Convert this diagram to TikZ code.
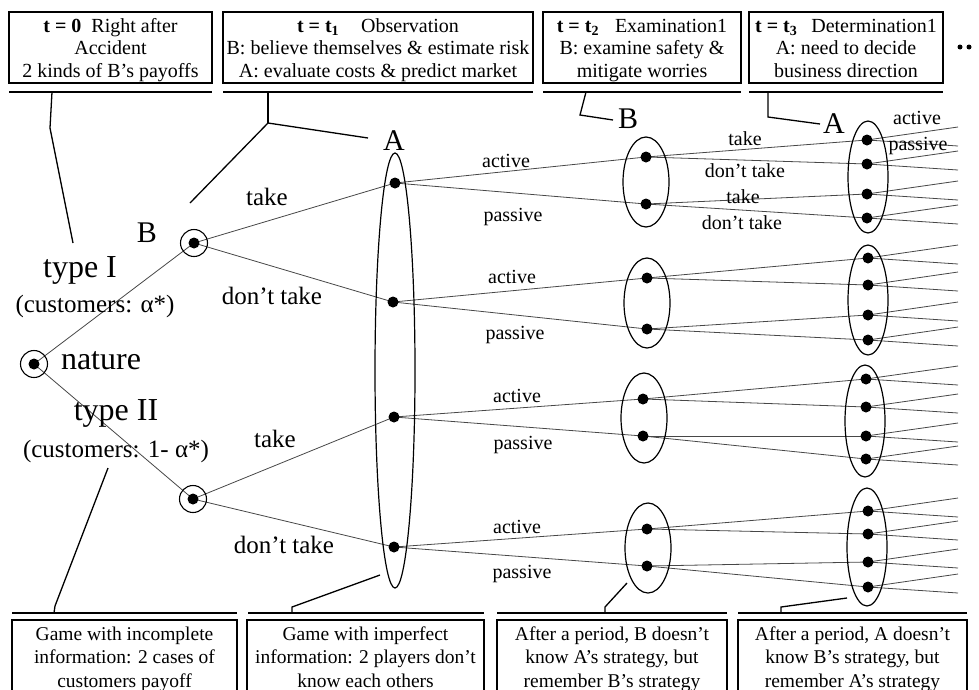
\documentclass[tikz,border=0pt]{standalone}
\usepackage{fontspec}
\setmainfont{Liberation Serif}
\usetikzlibrary{shapes.geometric,backgrounds}

\begin{document}
\begin{tikzpicture}[x=1pt,y=-1pt,
  branch/.style={draw=black!72, line width=0.8pt},
  infoset/.style={ellipse, draw, line width=1.2pt, inner sep=0},
  dot/.style={circle, fill=black, inner sep=0, minimum size=11pt},
  chance/.style={circle, draw, line width=1.1pt, inner sep=0, minimum size=27pt},
  leader/.style={draw, line width=1.3pt},
  rulebar/.style={draw, line width=1.8pt},
  panel/.style={rectangle, draw, line width=1.3pt, inner sep=0},
  ptext/.style={anchor=base, inner sep=0, font=\fontsize{20}{24}\selectfont},
  btext/.style={anchor=base, inner sep=0, font=\fontsize{19.5}{24}\selectfont},
  lbl/.style={anchor=base, inner sep=0, font=\fontsize{20}{24}\selectfont},
  movelbl/.style={anchor=base, inner sep=0, font=\fontsize{25}{30}\selectfont},
  player/.style={anchor=base, inner sep=0, font=\fontsize{30}{36}\selectfont},
  typelbl/.style={anchor=base, inner sep=0, font=\fontsize{32}{38}\selectfont},
  more/.style={circle, fill=black, inner sep=0, minimum size=5pt}
]
\useasboundingbox (0,0) rectangle (979,689);
\clip (0,0) rectangle (979,689);

% ---------- time-period panels (top) ----------
\node[panel, minimum width=203pt, minimum height=71pt] (p0) at (110.5,47.5) {};
\node[panel, minimum width=310pt, minimum height=71pt] (p1) at (378,47.5) {};
\node[panel, minimum width=198pt, minimum height=71pt] (p2) at (642,47.5) {};
\node[panel, minimum width=194pt, minimum height=71pt] (p3) at (846,47.5) {};

\node[ptext] (p0l1) at (110.5,32) {\textbf{t = 0}\hspace{0.5em}Right after};
\node[ptext] (p0l2) at (110.5,54.5) {Accident};
\node[ptext] (p0l3) at (110.5,77) {2 kinds of B’s payoffs};

\node[ptext] (p1l1) at (378,32) {\textbf{t = t\textsubscript{1}}\hspace{1.1em}Observation};
\node[ptext] (p1l2) at (378,54.5) {B: believe themselves \& estimate risk};
\node[ptext] (p1l3) at (378,77) {A: evaluate costs \& predict market};

\node[ptext] (p2l1) at (642,32) {\textbf{t = t\textsubscript{2}}\hspace{0.8em}Examination1};
\node[ptext] (p2l2) at (642,54.5) {B: examine safety \&};
\node[ptext] (p2l3) at (642,77) {mitigate worries};

\node[ptext] (p3l1) at (846,32) {\textbf{t = t\textsubscript{3}}\hspace{0.7em}Determination1};
\node[ptext] (p3l2) at (846,54.5) {A: need to decide};
\node[ptext] (p3l3) at (846,77) {business direction};

\node[more] (more1) at (960,47) {};
\node[more] (more2) at (969,47) {};

\draw[rulebar] (9,92) -- (212,92);
\draw[rulebar] (223,92) -- (533,92);
\draw[rulebar] (543,92) -- (741,92);
\draw[rulebar] (749,92) -- (943,92);

% ---------- remark panels (bottom) ----------
\node[panel, minimum width=225pt, minimum height=90pt] (q0) at (124.5,665) {};
\node[panel, minimum width=237pt, minimum height=90pt] (q1) at (365.5,665) {};
\node[panel, minimum width=230pt, minimum height=90pt] (q2) at (612,665) {};
\node[panel, minimum width=229pt, minimum height=90pt] (q3) at (852.5,665) {};

\node[btext] (q0l1) at (124.5,640) {Game with incomplete};
\node[btext] (q0l2) at (124.5,663.5) {information: 2 cases of};
\node[btext] (q0l3) at (124.5,687) {customers payoff};

\node[btext] (q1l1) at (365.5,640) {Game with imperfect};
\node[btext] (q1l2) at (365.5,663.5) {information: 2 players don’t};
\node[btext] (q1l3) at (365.5,687) {know each others};

\node[btext] (q2l1) at (612,640) {After a period, B doesn’t};
\node[btext] (q2l2) at (612,663.5) {know A’s strategy, but};
\node[btext] (q2l3) at (612,687) {remember B’s strategy};

\node[btext] (q3l1) at (852.5,640) {After a period, A doesn’t};
\node[btext] (q3l2) at (852.5,663.5) {know B’s strategy, but};
\node[btext] (q3l3) at (852.5,687) {remember A’s strategy};

\draw[rulebar] (12,613) -- (237,613);
\draw[rulebar] (248,613) -- (484,613);
\draw[rulebar] (497,613) -- (727,613);
\draw[rulebar] (738,613) -- (967,613);

% ---------- leaders from the panels ----------
\coordinate (r0) at (52,92);  \coordinate (k0) at (50,128);  \coordinate (tip0) at (73,243);
\coordinate (r1) at (268,92); \coordinate (k1) at (268,123); \coordinate (tip1a) at (190,203); \coordinate (tip1b) at (368,138);
\coordinate (r2) at (586,92); \coordinate (k2) at (580,115); \coordinate (tip2) at (613,120);
\coordinate (r3) at (768,92); \coordinate (k3) at (768,117); \coordinate (tip3) at (820,124);
\draw[leader] (r0) -- (k0) -- (tip0);
\draw[leader] (tip1a) -- (k1) -- (tip1b);
\draw[leader] (r1) -- (k1);
\draw[leader] (r2) -- (k2) -- (tip2);
\draw[leader] (r3) -- (k3) -- (tip3);

\coordinate (s0) at (54,613);  \coordinate (m0) at (55,606);  \coordinate (u0) at (108,468);
\coordinate (s1) at (292,613); \coordinate (m1) at (292,607); \coordinate (u1) at (380,575);
\coordinate (s2) at (605,613); \coordinate (m2) at (605,607); \coordinate (u2) at (627,583);
\coordinate (s3) at (781,613); \coordinate (m3) at (781,607); \coordinate (u3) at (847,598);
\draw[leader] (s0) -- (m0) -- (u0);
\draw[leader] (s1) -- (m1) -- (u1);
\draw[leader] (s2) -- (m2) -- (u2);
\draw[leader] (s3) -- (m3) -- (u3);

% ---------- information sets ----------
\node[infoset, minimum width=40pt, minimum height=435pt] (setA) at (395,370.5) {};
\node[infoset, minimum width=46pt, minimum height=90pt] (setB1) at (646,182) {};
\node[infoset, minimum width=46pt, minimum height=90pt] (setB2) at (647,303) {};
\node[infoset, minimum width=46pt, minimum height=90pt] (setB3) at (644,418) {};
\node[infoset, minimum width=46pt, minimum height=90pt] (setB4) at (648,548) {};
\node[infoset, minimum width=40pt, minimum height=112pt] (setC1) at (868,177) {};
\node[infoset, minimum width=40pt, minimum height=110pt] (setC2) at (868,300) {};
\node[infoset, minimum width=40pt, minimum height=112pt] (setC3) at (865,421) {};
\node[infoset, minimum width=40pt, minimum height=118pt] (setC4) at (867,547) {};

% ---------- decision nodes ----------
\node[chance] (n) at (34,364) {};  \node[dot] (ndot) at (n.center) {};
\node[chance] (b1) at (194,243) {}; \node[dot] (b1dot) at (b1.center) {};
\node[chance] (b2) at (193,499) {}; \node[dot] (b2dot) at (b2.center) {};

\node[dot] (a1) at (395,183) {};
\node[dot] (a2) at (393,302) {};
\node[dot] (a3) at (394,417) {};
\node[dot] (a4) at (394,547) {};

\node[dot] (c1) at (646,157) {};
\node[dot] (c2) at (646,204) {};
\node[dot] (c3) at (647,278) {};
\node[dot] (c4) at (647,329) {};
\node[dot] (c5) at (643,399) {};
\node[dot] (c6) at (643,436) {};
\node[dot] (c7) at (647,529) {};
\node[dot] (c8) at (647,566) {};

\foreach \i/\x/\y in {1/867/140,2/867/164,3/867/194,4/867/218,
                      5/868/258,6/868/285,7/868/315,8/868/340,
                      9/866/379,10/866/407,11/866/436,12/866/459,
                      13/868/511,14/868/534,15/868/562,16/868/587}{
  \node[dot] (d\i) at (\x,\y) {};
  \coordinate (e\i u) at (958,\y-13);
  \coordinate (e\i d) at (958,\y+6);
}

% ---------- branches ----------
\begin{scope}[on background layer]
  \draw[branch] (n.center) -- (b1.center);
  \draw[branch] (n.center) -- (b2.center);
  \draw[branch] (b1.center) -- (a1.center);
  \draw[branch] (b1.center) -- (a2.center);
  \draw[branch] (b2.center) -- (a3.center);
  \draw[branch] (b2.center) -- (a4.center);
  \foreach \a/\p/\q in {a1/c1/c2, a2/c3/c4, a3/c5/c6, a4/c7/c8}{
    \draw[branch] (\a.center) -- (\p.center);
    \draw[branch] (\a.center) -- (\q.center);
  }
  \foreach \c/\p/\q in {c1/1/2, c2/3/4, c3/5/6, c4/7/8,
                        c5/9/10, c6/11/12, c7/13/14, c8/15/16}{
    \draw[branch] (\c.center) -- (d\p.center);
    \draw[branch] (\c.center) -- (d\q.center);
  }
  \foreach \i in {1,...,16}{
    \draw[branch] (d\i.center) -- (e\i u);
    \draw[branch] (d\i.center) -- (e\i d);
  }
\end{scope}

% ---------- labels ----------
\node[typelbl] (natlbl) at (101,369) {nature};
\node[typelbl] (t1lbl) at (80,277) {type I};
\node[movelbl] (t1cust) at (95,312) {(customers: α*)};
\node[typelbl] (t2lbl) at (116,420) {type II};
\node[movelbl] (t2cust) at (116,457) {(customers: 1- α*)};

\node[player] (blbl) at (147,242) {B};
\node[player] (albl) at (394,150) {A};
\node[player] (blbl2) at (628,128) {B};
\node[player] (albl2) at (834,133) {A};

\node[movelbl] (tk1) at (267,205) {take};
\node[movelbl] (dt1) at (272,304) {don’t take};
\node[movelbl] (tk2) at (275,447) {take};
\node[movelbl] (dt2) at (284,553) {don’t take};

\node[lbl] (ac1) at (506,167) {active};
\node[lbl] (pa1) at (513,221) {passive};
\node[lbl] (ac2) at (512,283) {active};
\node[lbl] (pa2) at (515,339) {passive};
\node[lbl] (ac3) at (517,402) {active};
\node[lbl] (pa3) at (523,449) {passive};
\node[lbl] (ac4) at (517,533) {active};
\node[lbl] (pa4) at (522,578) {passive};

\node[lbl] (tk3) at (745,145) {take};
\node[lbl] (dt3) at (745,177) {don’t take};
\node[lbl] (tk4) at (743,203) {take};
\node[lbl] (dt4) at (742,229) {don’t take};

\node[lbl] (ac5) at (917,124) {active};
\node[lbl] (pa5) at (918,150) {passive};
\end{tikzpicture}
\end{document}
